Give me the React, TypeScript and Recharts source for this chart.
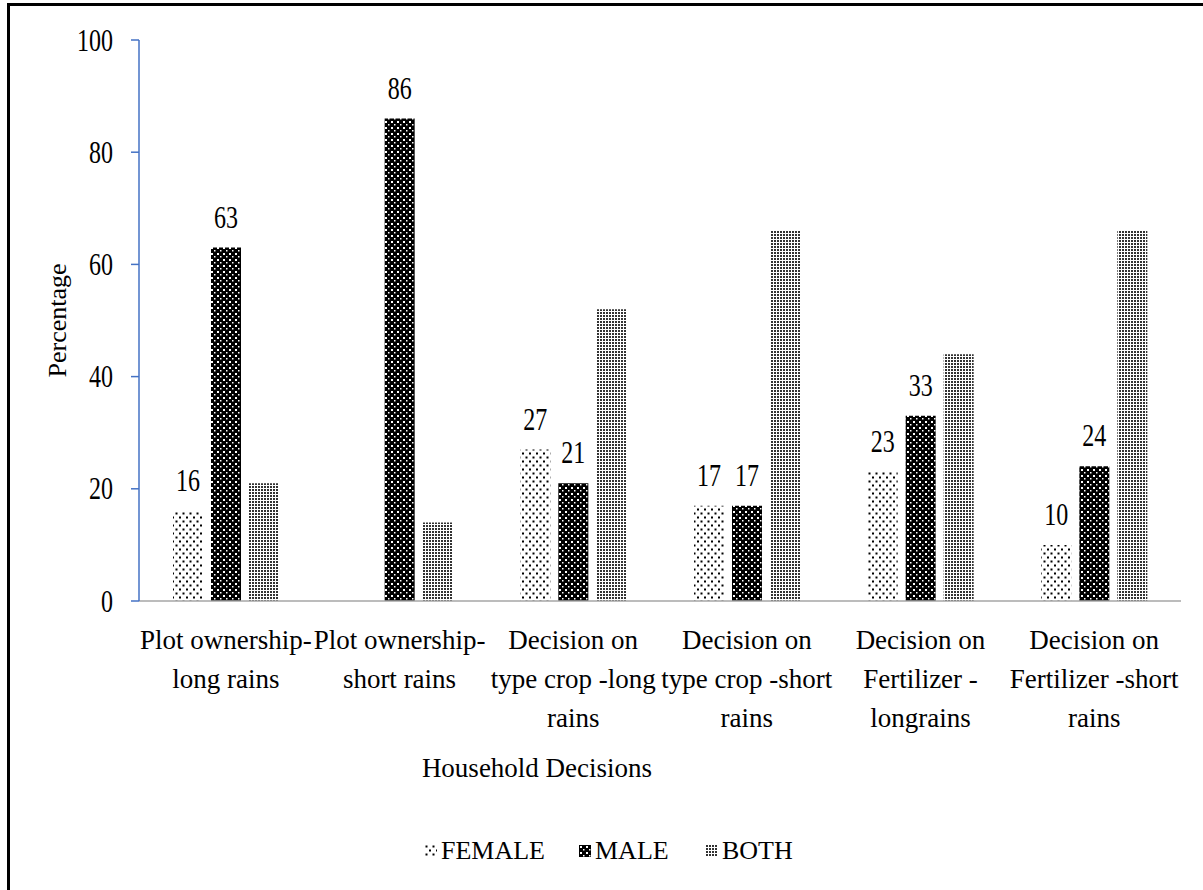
import React from "react";
import { Bar, BarChart, Label, LabelList, XAxis, YAxis } from "recharts";

// category labels, as the lines they wrap to
const categories = [
  ["Plot ownership-", "long rains"],
  ["Plot ownership-", "short rains"],
  ["Decision on", "type crop -long", "rains"],
  ["Decision on", "type crop -short", "rains"],
  ["Decision on", "Fertilizer -", "longrains"],
  ["Decision on", "Fertilizer -short", "rains"],
];

const female = [16, 0, 27, 17, 23, 10];
const male = [63, 86, 21, 17, 33, 24];
const both = [21, 14, 52, 66, 44, 66];

const yTicks = [0, 20, 40, 60, 80, 100];
const seriesNames = ["FEMALE", "MALE", "BOTH"];

const data = categories.map((lines, i) => ({
  name: lines.join("|"),
  female: female[i],
  male: male[i],
  both: both[i],
}));

const FONT = "Liberation Serif";
// the numbers in the original are drawn taller than they are wide
const NUM_STRETCH = 1.35;

function Patterns() {
  return (
    <svg width={0} height={0} style={{ position: "absolute" }}>
      <defs>
        <pattern id="patFemale" width={7} height={8} patternUnits="userSpaceOnUse">
          <rect width={7} height={8} fill="#fff" />
          <rect x={0.5} y={0.5} width={2} height={2} fill="#000" />
          <rect x={4} y={4.5} width={2} height={2} fill="#000" />
        </pattern>
        <pattern id="patMale" width={6} height={6} patternUnits="userSpaceOnUse">
          <rect width={6} height={6} fill="#000" />
          <rect x={1} y={1} width={2} height={2} fill="#fff" />
          <rect x={4} y={4} width={1.5} height={1.5} fill="#fff" />
        </pattern>
        <pattern id="patBoth" width={3} height={3} patternUnits="userSpaceOnUse">
          <rect width={3} height={3} fill="#fff" />
          <rect width={2} height={2} fill="#333" />
        </pattern>
      </defs>
    </svg>
  );
}

function NumText({ x, y, anchor, children }: any) {
  return (
    <text
      transform={`translate(${x}, ${y}) scale(1, ${NUM_STRETCH})`}
      textAnchor={anchor}
      fontFamily={FONT}
      fontSize={24}
      fill="#000"
    >
      {children}
    </text>
  );
}

function CategoryTick(props: any) {
  const { x, y, payload } = props;
  const lines = String(payload.value).split("|");
  return (
    <text x={x} y={y} textAnchor="middle" fontFamily={FONT} fontSize={27} fill="#000">
      {lines.map((ln, i) => (
        <tspan key={i} x={x} dy={i === 0 ? 48 : 39}>
          {ln}
        </tspan>
      ))}
    </text>
  );
}

function ValueTick(props: any) {
  const { x, y, payload } = props;
  return (
    <NumText x={x} y={y + 10.5} anchor="end">
      {payload.value}
    </NumText>
  );
}

function BarValue(props: any) {
  const { x, y, width, value } = props;
  return (
    <NumText x={x + width / 2} y={y - 20} anchor="middle">
      {value}
    </NumText>
  );
}

const legendFills = ["url(#patFemale)", "url(#patMale)", "url(#patBoth)"];

function ChartLegend() {
  const lefts = [425, 579, 706];
  return (
    <div style={{ position: "absolute", left: 0, top: 836, width: 1203, height: 30 }}>
      {seriesNames.map((name, i) => (
        <div
          key={name}
          style={{
            position: "absolute",
            left: lefts[i],
            top: 0,
            display: "flex",
            alignItems: "center",
            fontFamily: FONT,
            fontSize: 26,
            color: "#000",
            lineHeight: "30px",
          }}
        >
          <svg width={12} height={12} style={{ marginRight: 4 }}>
            <rect width={12} height={12} fill={legendFills[i]} />
          </svg>
          {name}
        </div>
      ))}
    </div>
  );
}

export default function App() {
  return (
    <div style={{ position: "absolute", left: 0, top: 0, width: 1203, height: 890, background: "#fff" }}>
      <Patterns />
      <div
        style={{
          position: "absolute",
          left: 7,
          top: 3,
          width: 1196,
          height: 887,
          borderLeft: "3px solid #000",
          borderTop: "3px solid #000",
          boxSizing: "border-box",
        }}
      />
      <div style={{ position: "absolute", left: 0, top: 0 }}>
        <BarChart
          width={1203}
          height={890}
          data={data}
          margin={{ top: 40, right: 22, left: 0, bottom: 89 }}
          barSize={30}
          barGap={8}
        >
          <XAxis
            dataKey="name"
            height={200}
            stroke="#a6a6a6"
            strokeWidth={1.5}
            tickLine={false}
            tickSize={0}
            tickMargin={0}
            interval={0}
            tick={<CategoryTick />}
          >
            <Label
              content={({ viewBox }: any) => (
                <text
                  x={viewBox.x + 398}
                  y={viewBox.y + 176}
                  textAnchor="middle"
                  fontFamily={FONT}
                  fontSize={27}
                  fill="#000"
                >
                  Household Decisions
                </text>
              )}
            />
          </XAxis>
          <YAxis
            width={139}
            domain={[0, 100]}
            ticks={yTicks}
            stroke="#4472c4"
            strokeWidth={1.5}
            tickSize={8}
            tickMargin={18}
            tick={<ValueTick />}
          >
            <Label
              content={({ viewBox }: any) => {
                const cx = viewBox.x + 57;
                const cy = viewBox.y + viewBox.height / 2;
                return (
                  <text
                    x={cx}
                    y={cy}
                    transform={`rotate(-90, ${cx}, ${cy})`}
                    textAnchor="middle"
                    dominantBaseline="central"
                    fontFamily={FONT}
                    fontSize={26}
                    fill="#000"
                  >
                    Percentage
                  </text>
                );
              }}
            />
          </YAxis>
          <Bar dataKey="female" name={seriesNames[0]} fill="url(#patFemale)" isAnimationActive={false}>
            <LabelList dataKey="female" content={<BarValue />} />
          </Bar>
          <Bar dataKey="male" name={seriesNames[1]} fill="url(#patMale)" isAnimationActive={false}>
            <LabelList dataKey="male" content={<BarValue />} />
          </Bar>
          <Bar dataKey="both" name={seriesNames[2]} fill="url(#patBoth)" isAnimationActive={false} />
        </BarChart>
      </div>
      <ChartLegend />
    </div>
  );
}
